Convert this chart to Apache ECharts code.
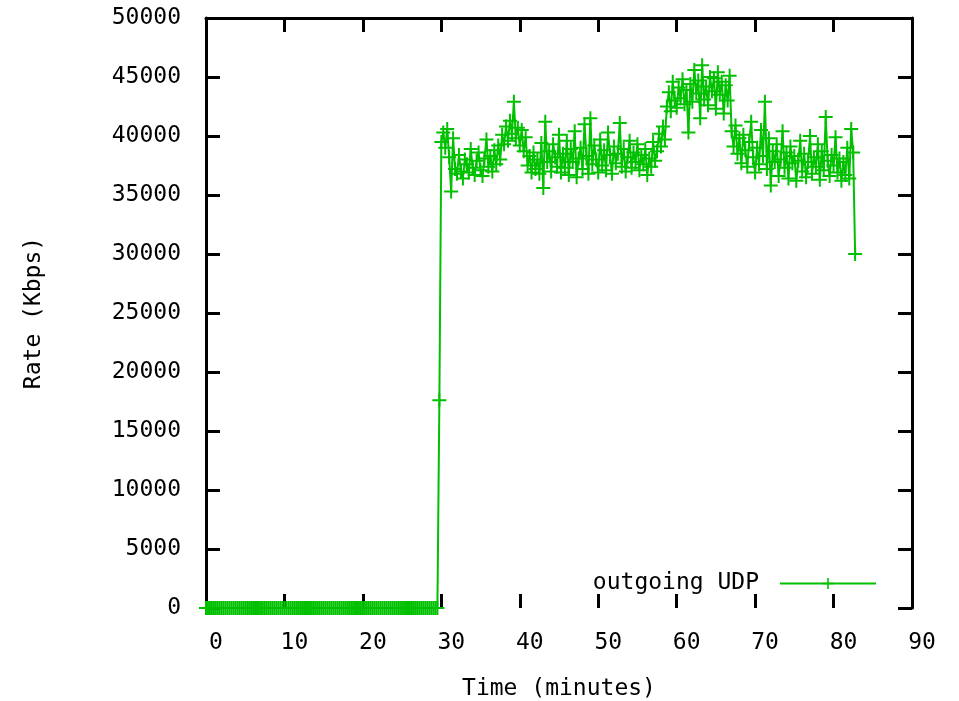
<!DOCTYPE html>
<html>
<head>
<meta charset="utf-8">
<script src="https://cdn.jsdelivr.net/npm/echarts@6/dist/echarts.min.js"></script>
<style>
  html, body { margin: 0; padding: 0; background: #fff; }
  #chart { width: 959px; height: 701px; }
</style>
</head>
<body>
<div id="chart"></div>
<script>
// Outgoing UDP rate sampled every 15 seconds (0.25 min), starting at t = 0.
const sampleMinutes = 0.25;

// Idle period: 0 .. 29.5 min
const idleRate = [
  0,0,0,0,0,0,0,0,0,0,
  0,0,0,0,0,0,0,0,0,0,
  0,0,0,0,0,0,0,0,0,0,
  0,0,0,0,0,0,0,0,0,0,
  0,0,0,0,0,0,0,0,0,0,
  0,0,0,0,0,0,0,0,0,0,
  0,0,0,0,0,0,0,0,0,0,
  0,0,0,0,0,0,0,0,0,0,
  0,0,0,0,0,0,0,0,0,0,
  0,0,0,0,0,0,0,0,0,0,
  0,0,0,0,0,0,0,0,0,0,
  0,0,0,0,0,0,0,0,0
];

// Transfer period: 29.75 .. 82.75 min (Kbps)
const activeRate = [
  17600,
  39500,40300,39000,40600,   // 30
  38200,35300,39800,37200,   // 31
  36800,38400,37000,36400,   // 32
  38000,37600,36900,38900,   // 33
  37300,36700,37900,38600,   // 34
  37100,36600,38100,39700,   // 35
  37400,38300,37000,38800,   // 36
  37600,39200,38000,40100,   // 37
  39300,40800,39600,41300,   // 38
  40200,42900,39800,40700,   // 39
  39200,40500,38700,39900,   // 40
  37500,38300,36900,38600,   // 41
  37200,38000,36800,39400,   // 42
  35600,41200,37800,38700,   // 43
  37000,39300,38200,37400,   // 44
  40100,36900,38500,37300,   // 45
  39600,36700,38900,37800,   // 46
  40400,36500,38100,39000,   // 47
  37200,41000,38300,36800,   // 48
  41500,37600,39200,38000,   // 49
  36900,39700,37500,38800,   // 50
  37100,40300,38400,36800,   // 51
  39100,37700,38500,41100,   // 52
  37400,38900,37000,38200,   // 53
  39600,37300,38600,37800,   // 54
  39300,37100,38400,37600,   // 55
  38900,36700,38100,37400,   // 56
  39500,37900,38700,40200,   // 57
  39100,40800,39700,42500,   // 58
  43700,42100,44600,43000,   // 59
  42400,44100,43200,44800,   // 60
  42700,43900,40300,44400,   // 61
  42900,45600,43600,44700,   // 62
  41500,46000,43100,44200,   // 63
  42600,45000,43800,44900,   // 64
  42300,45400,43500,44600,   // 65
  41900,44300,43000,45100,   // 66
  40400,39100,40900,38500,   // 67
  39800,37700,40100,38800,   // 68
  37400,39500,41200,38200,   // 69
  36900,39000,37600,40500,   // 70
  38300,42900,37200,39800,   // 71
  35800,38700,37800,39300,   // 72
  36600,38000,40400,37300,   // 73
  38600,36400,39100,37700,   // 74
  38300,36200,37900,39600,   // 75
  37000,38500,36500,37800,   // 76
  40000,36800,38200,37400,   // 77
  39300,36300,38700,37100,   // 78
  41600,37900,36600,38400,   // 79
  37500,39900,36900,38100,   // 80
  36200,37800,36700,39000,   // 81
  36400,40600,38600,30000    // 82
];

const xTicks = { min: 0, max: 90, interval: 10 };
const yTicks = { min: 0, max: 50000, interval: 5000 };

const rate = idleRate.concat(activeRate);
const points = rate.map((v, i) => [i * sampleMinutes, v]);

const GREEN = '#00c000';
const FONT = '"DejaVu Sans Mono", "Liberation Mono", monospace';
const plus = 'path://M-1,-7H1V-1H7V1H1V7H-1V1H-7V-1H-1Z';
const plain = v => String(v);

const chart = echarts.init(document.getElementById('chart'), null, { renderer: 'canvas' });

const frameLine = { show: true, onZero: false, lineStyle: { color: '#000', width: 3 } };
const innerTick = { show: true, inside: true, length: 14, lineStyle: { color: '#000', width: 3 } };

chart.setOption({
  animation: false,
  backgroundColor: '#fff',
  grid: { left: 206, right: 47, top: 18, bottom: 93, containLabel: false, outerBoundsMode: 'none' },
  legend: {
    data: ['outgoing UDP'],
    right: 77,
    top: 567,
    align: 'right',
    itemWidth: 96,
    itemHeight: 14,
    itemGap: 0,
    textStyle: { fontFamily: FONT, fontSize: 23, color: '#000', padding: [0, 16, 0, 0] }
  },
  xAxis: [
    {
      type: 'value', position: 'bottom',
      min: xTicks.min, max: xTicks.max, interval: xTicks.interval,
      name: 'Time (minutes)', nameLocation: 'middle', nameGap: 70,
      nameTextStyle: { fontFamily: FONT, fontSize: 23, color: '#000' },
      axisLine: { show: false, onZero: false },
      axisTick: innerTick,
      splitLine: { show: false },
      axisLabel: { fontFamily: FONT, fontSize: 23, color: '#000', margin: 24, padding: [0, 0, 0, 20], formatter: plain }
    },
    {
      type: 'value', position: 'top',
      min: xTicks.min, max: xTicks.max, interval: xTicks.interval,
      axisLine: frameLine,
      axisTick: innerTick,
      splitLine: { show: false },
      axisLabel: { show: false }
    }
  ],
  yAxis: [
    {
      type: 'value', position: 'left',
      min: yTicks.min, max: yTicks.max, interval: yTicks.interval,
      name: 'Rate (Kbps)', nameLocation: 'middle', nameGap: 160, nameRotate: 90,
      nameTextStyle: { fontFamily: FONT, fontSize: 23, color: '#000' },
      axisLine: frameLine,
      axisTick: innerTick,
      splitLine: { show: false },
      axisLabel: { fontFamily: FONT, fontSize: 23, color: '#000', margin: 25, formatter: plain }
    },
    {
      type: 'value', position: 'right',
      min: yTicks.min, max: yTicks.max, interval: yTicks.interval,
      axisLine: frameLine,
      axisTick: innerTick,
      splitLine: { show: false },
      axisLabel: { show: false }
    }
  ],
  series: [
    {
      name: 'outgoing UDP',
      type: 'line',
      data: points,
      clip: false,
      symbol: plus,
      symbolSize: 14,
      showAllSymbol: true,
      itemStyle: { color: GREEN },
      lineStyle: { color: GREEN, width: 2 },
      emphasis: { disabled: true }
    }
  ]
});
</script>
</body>
</html>
